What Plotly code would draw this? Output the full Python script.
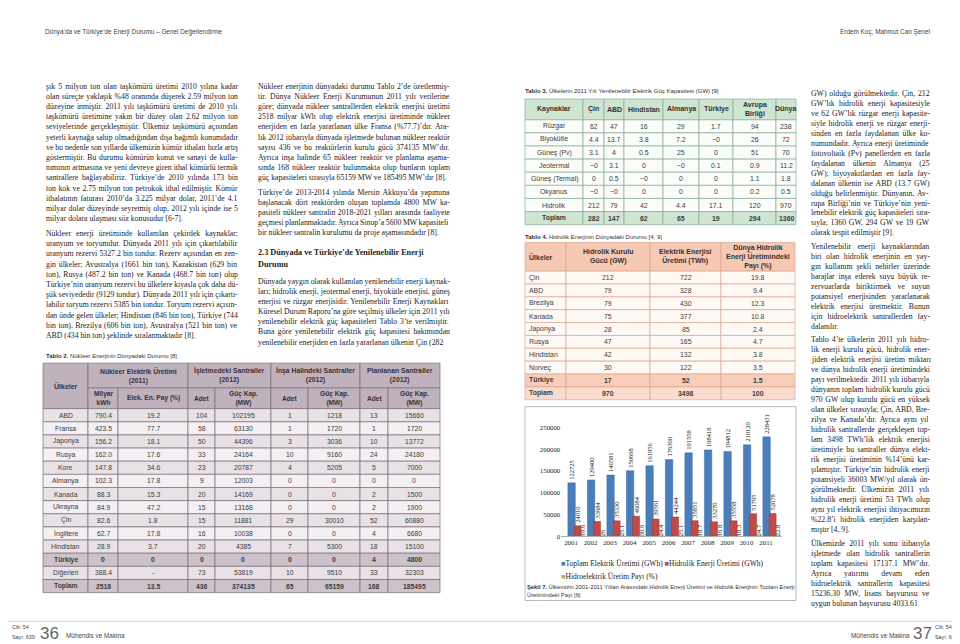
import plotly.graph_objects as go

W, H = 960, 644

# ---------------- Şekil 7 chart data ----------------
YEARS = ["2001", "2002", "2003", "2004", "2005", "2006", "2007", "2008", "2009", "2010", "2011"]
TOTAL_GWH = [122725, 129400, 140581, 150698, 161956, 176300, 191558, 198418, 194812, 210120, 228431]
HYDRO_GWH = [24010, 33684, 35330, 46084, 39561, 44244, 35851, 33270, 35558, 51795, 52078]
HYDRO_SHARE = [19.6, 26, 25.1, 30.6, 24.4, 25.1, 18.7, 16.8, 18.3, 24.7, 22.8]
Y_TICKS = [0, 50000, 100000, 150000, 200000, 250000]
SERIES_NAMES = ["Toplam Elektrik Üretimi (GWh)", "Hidrolik Enerji Üretimi (GWh)", "Hidroelektrik Üretim Payı (%)"]

# ---------------- Tablo 2 data ----------------
T2_COUNTRIES = ["ABD", "Fransa", "Japonya", "Rusya", "Kore", "Almanya", "Kanada", "Ukrayna", "Çin",
                "İngiltere", "Hindistan", "Türkiye", "Diğerleri", "Toplam"]
T2_NUC_KWH = ["790.4", "423.5", "156.2", "162.0", "147.8", "102.3", "88.3", "84.9", "82.6", "62.7", "28.9", "0", "388.4", "2518"]
T2_NUC_SHARE = ["19.2", "77.7", "18.1", "17.6", "34.6", "17.8", "15.3", "47.2", "1.8", "17.8", "3.7", "0", "-", "13.5"]
T2_OP_N = ["104", "58", "50", "33", "23", "9", "20", "15", "15", "16", "20", "0", "73", "436"]
T2_OP_MW = ["102195", "63130", "44396", "24164", "20787", "12003", "14169", "13168", "11881", "10038", "4385", "0", "53819", "374135"]
T2_CON_N = ["1", "1", "3", "10", "4", "0", "0", "0", "29", "0", "7", "0", "10", "65"]
T2_CON_MW = ["1218", "1720", "3036", "9160", "5205", "0", "0", "0", "30010", "0", "5300", "0", "9510", "65159"]
T2_PLAN_N = ["13", "1", "10", "24", "5", "0", "2", "2", "52", "4", "18", "4", "33", "168"]
T2_PLAN_MW = ["15660", "1720", "13772", "24180", "7000", "0", "1500", "1900", "60880", "6680", "15100", "4800", "32303", "185495"]
T2_GROUPS = ["Nükleer Elektrik Üretimi<br>(2011)", "İşletmedeki Santraller<br>(2012)",
             "İnşa Halindeki Santraller<br>(2012)", "Planlanan Santraller<br>(2012)"]
T2_SUBHEAD = ["Milyar<br>kWh", "Elek. En. Pay (%)", "Adet", "Güç Kap.<br>(MW)", "Adet", "Güç Kap.<br>(MW)", "Adet", "Güç Kap.<br>(MW)"]

# ---------------- Tablo 3 data ----------------
T3_HEAD = ["Kaynaklar", "Çin", "ABD", "Hindistan", "Almanya", "Türkiye", "Avrupa<br>Birliği", "Dünya"]
T3_SOURCES = ["Rüzgar", "Biyokütle", "Güneş (Pv)", "Jeotermal", "Güneş (Termal)", "Okyanus", "Hidrolik", "Toplam"]
T3_CIN = ["62", "4.4", "3.1", "~0", "0", "~0", "212", "282"]
T3_ABD = ["47", "13.7", "4", "3.1", "0.5", "~0", "79", "147"]
T3_HIN = ["16", "3.8", "0.5", "0", "~0", "0", "42", "62"]
T3_ALM = ["29", "7.2", "25", "~0", "0", "0", "4.4", "65"]
T3_TUR = ["1.7", "~0", "0", "0.1", "0", "0", "17.1", "19"]
T3_AB = ["94", "26", "51", "0.9", "1.1", "0.2", "120", "294"]
T3_DUNYA = ["238", "72", "70", "11.2", "1.8", "0.5", "970", "1360"]

# ---------------- Tablo 4 data ----------------
T4_HEAD = ["Ülkeler", "Hidrolik Kurulu<br>Gücü (GW)", "Elektrik Enerjisi<br>Üretimi (TWh)", "Dünya Hidrolik<br>Enerji Üretimindeki<br>Payı (%)"]
T4_COUNTRIES = ["Çin", "ABD", "Brezilya", "Kanada", "Japonya", "Rusya", "Hindistan", "Norveç", "Türkiye", "Toplam"]
T4_GW = ["212", "79", "79", "75", "28", "47", "42", "30", "17", "970"]
T4_TWH = ["722", "328", "430", "377", "85", "165", "132", "122", "52", "3498"]
T4_SHARE = ["19.8", "9.4", "12.3", "10.8", "2.4", "4.7", "3.8", "3.5", "1.5", "100"]

# ---------------- body text ----------------
LEFT_P1 = [
    "şık 5 milyon ton olan taşkömürü üretimi 2010 yılına kadar",
    "olan süreçte yaklaşık %48 oranında düşerek 2.59 milyon ton",
    "düzeyine inmiştir. 2011 yılı taşkömürü üretimi de 2010 yılı",
    "taşkömürü üretimine yakın bir düzey olan 2.62 milyon ton",
    "seviyelerinde gerçekleşmiştir. Ülkemiz taşkömürü açısından",
    "yeterli kaynağa sahip olmadığından dışa bağımlı konumdadır",
    "ve bu nedenle son yıllarda ülkemizin kömür ithalatı hızla artış",
    "göstermiştir. Bu durumu kömürün konut ve sanayi de kulla-",
    "nımının artmasına ve yeni devreye giren ithal kömürlü termik",
    "santrallere bağlayabiliriz. Türkiye’de 2010 yılında 173 bin",
    "ton kok ve 2.75 milyon ton petrokok ithal edilmiştir. Kömür",
    "ithalatının faturası 2010’da 3.225 milyar dolar, 2011’de 4.1",
    "milyar dolar düzeyinde seyretmiş olup, 2012 yılı içinde ise 5",
    "milyar dolara ulaşması söz konusudur [6-7].",
]
LEFT_P2 = [
    "Nükleer enerji üretiminde kullanılan çekirdek kaynaklar;",
    "uranyum ve toryumdur. Dünyada 2011 yılı için çıkartılabilir",
    "uranyum rezervi 5327.2 bin tondur. Rezerv açısından en zen-",
    "gin ülkeler; Avustralya (1661 bin ton), Kazakistan (629 bin",
    "ton), Rusya (487.2 bin ton) ve Kanada (468.7 bin ton) olup",
    "Türkiye’nin uranyum rezervi bu ülkelere kıyasla çok daha dü-",
    "şük seviyededir (9129 tondur). Dünyada 2011 yılı için çıkartı-",
    "labilir toryum rezervi 5385 bin tondur. Toryum rezervi açısın-",
    "dan önde gelen ülkeler; Hindistan (846 bin ton), Türkiye (744",
    "bin ton), Brezilya (606 bin ton), Avustralya (521 bin ton) ve",
    "ABD (434 bin ton) şeklinde sıralanmaktadır [8].",
]
MID_P1 = [
    "Nükleer enerjinin dünyadaki durumu Tablo 2’de özetlenmiş-",
    "tir. Dünya Nükleer Enerji Kurumunun 2011 yılı verilerine",
    "göre; dünyada nükleer santrallerden elektrik enerjisi üretimi",
    "2518 milyar kWh olup elektrik enerjisi üretiminde nükleer",
    "enerjiden en fazla yararlanan ülke Fransa (%77.7)’dır. Ara-",
    "lık 2012 itibarıyla dünyada işletmede bulunan nükleer reaktör",
    "sayısı 436 ve bu reaktörlerin kurulu gücü 374135 MW’dır.",
    "Ayrıca inşa halinde 65 nükleer reaktör ve planlama aşama-",
    "sında 168 nükleer reaktör bulunmakta olup bunların toplam",
    "güç kapasiteleri sırasıyla 65159 MW ve 185495 MW’dır [8].",
]
MID_P2 = [
    "Türkiye’de 2013-2014 yılında Mersin Akkuyu’da yapımına",
    "başlanacak dört reaktörden oluşan toplamda 4800 MW ka-",
    "pasiteli nükleer santralin 2018-2021 yılları arasında faaliyete",
    "geçmesi planlanmaktadır. Ayrıca Sinop’a 5600 MW kapasiteli",
    "bir nükleer santralin kurulumu da proje aşamasındadır [8].",
]
MID_HEAD = ["2.3 Dünyada ve Türkiye’de Yenilenebilir Enerji", "Durumu"]
MID_P3 = [
    "Dünyada yaygın olarak kullanılan yenilenebilir enerji kaynak-",
    "ları; hidrolik enerji, jeotermal enerji, biyokütle enerjisi, güneş",
    "enerjisi ve rüzgar enerjisidir. Yenilenebilir Enerji Kaynakları",
    "Küresel Durum Raporu’na göre seçilmiş ülkeler için 2011 yılı",
    "yenilenebilir elektrik güç kapasiteleri Tablo 3’te verilmiştir.",
    "Buna göre yenilenebilir elektrik güç kapasitesi bakımından",
    "yenilenebilir enerjiden en fazla yararlanan ülkenin Çin (282",
]
RIGHT_P1 = [
    "GW) olduğu görülmektedir. Çin, 212",
    "GW’lık hidrolik enerji kapasitesiyle",
    "ve 62 GW’lık rüzgar enerji kapasite-",
    "siyle hidrolik enerji ve rüzgar enerji-",
    "sinden en fazla faydalanan ülke ko-",
    "numundadır. Ayrıca enerji üretiminde",
    "fotovoltaik (Pv) panellerden en fazla",
    "faydalanan ülkenin Almanya (25",
    "GW); biyoyakıtlardan en fazla fay-",
    "dalanan ülkenin ise ABD (13.7 GW)",
    "olduğu belirlenmiştir. Dünyanın, Av-",
    "rupa Birliği’nin ve Türkiye’nin yeni-",
    "lenebilir elektrik güç kapasiteleri sıra-",
    "sıyla; 1360 GW, 294 GW ve 19 GW",
    "olarak tespit edilmiştir [9].",
]
RIGHT_P2 = [
    "Yenilenebilir enerji kaynaklarından",
    "biri olan hidrolik enerjinin en yay-",
    "gın kullanım şekli nehirler üzerinde",
    "barajlar inşa ederek suyu büyük re-",
    "zervuarlarda biriktirmek ve suyun",
    "potansiyel enerjisinden yararlanarak",
    "elektrik enerjisi üretmektir. Bunun",
    "için hidroelektrik santrallerden fay-",
    "dalanılır.",
]
RIGHT_P3 = [
    "Tablo 4’te ülkelerin 2011 yılı hidro-",
    "lik enerji kurulu gücü, hidrolik ener-",
    "jiden elektrik enerjisi üretim miktarı",
    "ve dünya hidrolik enerji üretimindeki",
    "payı verilmektedir. 2011 yılı itibarıyla",
    "dünyanın toplam hidrolik kurulu gücü",
    "970 GW olup kurulu gücü en yüksek",
    "olan ülkeler sırasıyla; Çin, ABD, Bre-",
    "zilya ve Kanada’dır. Ayrıca aynı yıl",
    "hidrolik santrallerde gerçekleşen top-",
    "lam 3498 TWh’lik elektrik enerjisi",
    "üretimiyle bu santraller dünya elekt-",
    "rik enerjisi üretiminin %14’ünü kar-",
    "şılamıştır. Türkiye’nin hidrolik enerji",
    "potansiyeli 36003 MW/yıl olarak ön-",
    "görülmektedir. Ülkemizin 2011 yılı",
    "hidrolik enerji üretimi 53 TWh olup",
    "aynı yıl elektrik enerjisi ihtiyacımızın",
    "%22.8’i hidrolik enerjiden karşılan-",
    "mıştır [4, 9].",
]
RIGHT_P4 = [
    "Ülkemizde 2011 yılı sonu itibarıyla",
    "işletmede olan hidrolik santrallerin",
    "toplam kapasitesi 17137.1 MW’dır.",
    "Ayrıca yatırımı devam eden",
    "hidroelektrik santrallerin kapasitesi",
    "15236.30 MW, lisans başvurusu ve",
    "uygun bulunan başvurusu 4033.61",
]

SERIF = "Liberation Serif, Times New Roman, serif"
SANS = "Liberation Sans, Arial, sans-serif"
NARROW = "Liberation Sans Narrow, Liberation Sans, Arial, sans-serif"

# approximate Times/Liberation Serif advance widths (1/1000 em) for justification
_TW = {" ": 250, "a": 444, "b": 500, "c": 444, "d": 500, "e": 444, "f": 333, "g": 500, "h": 500, "i": 278,
       "j": 278, "k": 500, "l": 278, "m": 778, "n": 500, "o": 500, "p": 500, "q": 500, "r": 333, "s": 389,
       "t": 278, "u": 500, "v": 500, "w": 722, "x": 500, "y": 500, "z": 444,
       "A": 722, "B": 667, "C": 667, "D": 722, "E": 611, "F": 556, "G": 722, "H": 722, "I": 333, "J": 389,
       "K": 722, "L": 611, "M": 889, "N": 722, "O": 722, "P": 556, "Q": 722, "R": 667, "S": 556, "T": 611,
       "U": 722, "V": 722, "W": 944, "X": 722, "Y": 722, "Z": 611,
       ".": 250, ",": 250, ";": 278, ":": 278, "-": 333, "(": 333, ")": 333, "%": 833, "[": 333, "]": 333,
       "’": 333, "/": 278, "~": 541, "–": 500,
       "ş": 389, "ı": 278, "ğ": 500, "ü": 500, "ö": 500, "ç": 444, "İ": 333, "Ş": 556, "Ç": 667, "Ü": 722,
       "Ö": 722}


def text_width(s, size):
    return sum(_TW.get(ch, 500) for ch in s) / 1000.0 * size


annotations = []
shapes = []


def X(px):
    return px / W


def Y(py):
    return 1 - py / H


def txt(px, py, s, size=7.3, fam=SERIF, color="#1e1e1e", anchor="left", vanchor="middle"):
    annotations.append(dict(x=X(px), y=Y(py), xref="paper", yref="paper", text=s, showarrow=False,
                            xanchor=anchor, yanchor=vanchor, align=anchor, borderpad=0, borderwidth=0,
                            font=dict(family=fam, size=size, color=color)))


def rect(x0, y0, x1, y1, fill, line, lw=0.7, layer="above"):
    shapes.append(dict(type="rect", xref="paper", yref="paper", x0=X(x0), x1=X(x1), y0=Y(y1), y1=Y(y0),
                       fillcolor=fill, line=dict(color=line, width=lw), layer=layer))


BODY = 7.75


def para(px0, px1, py0, lines, ls, size=BODY):
    """Justified paragraph: every line but the last is spread to the column width."""
    for i, s in enumerate(lines):
        n_sp = s.count(" ")
        if i < len(lines) - 1 and n_sp > 0:
            ws = (px1 - px0 - text_width(s, size)) / n_sp
            s = f'<span style="word-spacing:{ws:.2f}px">{s}</span>'
        txt(px0, py0 + i * ls, s, size=size, color="#1c1c1c")


# ---------------- body text placement ----------------
LS = 10.3
LCOL = (38, 230)
MCOL = (250, 442)
RCOL = (803, 922)
para(*LCOL, 75, LEFT_P1, LS)
para(*LCOL, 224, LEFT_P2, LS)
para(*MCOL, 75, MID_P1, LS)
para(*MCOL, 182, MID_P2, LS)
txt(MCOL[0], 243, "<b>" + MID_HEAD[0] + "</b>", size=8.2)
txt(MCOL[0], 255, "<b>" + MID_HEAD[1] + "</b>", size=8.2)
para(*MCOL, 272, MID_P3, LS)
LSR = 10.1
para(*RCOL, 82, RIGHT_P1, LSR)
para(*RCOL, 237, RIGHT_P2, LSR)
para(*RCOL, 331, RIGHT_P3, LSR)
para(*RCOL, 537, RIGHT_P4, LSR)

# header / footer
txt(37, 20, "Dünya’da ve Türkiye’de Enerji Durumu – Genel Değerlendirme", size=6.4, fam=NARROW, color="#444")
txt(922, 20, "Erdem Koç, Mahmut Can Şenel", size=6.4, fam=NARROW, color="#444", anchor="right")
shapes.append(dict(type="line", xref="paper", yref="paper", x0=0, x1=1, y0=Y(616), y1=Y(616),
                   line=dict(color="#c8c8c8", width=0.8)))
txt(4, 622, "Cilt: 54", size=5.4, fam=NARROW, color="#444")
txt(4, 632, "Sayı: 639", size=5.4, fam=NARROW, color="#444")
txt(32, 628, "36", size=17, fam=SANS, color="#666")
txt(58, 630, "Mühendis ve Makina", size=6.4, fam=NARROW, color="#444")
txt(902, 630, "Mühendis ve Makina", size=6.4, fam=NARROW, color="#444", anchor="right")
txt(905, 628, "37", size=17, fam=SANS, color="#666")
txt(927, 622, "Cilt: 54", size=5.4, fam=NARROW, color="#444")
txt(927, 632, "Sayı: 639", size=5.4, fam=NARROW, color="#444")

# ---------------- Tablo 2 ----------------
txt(38, 348, "<b>Tablo 2.</b> Nükleer Enerjinin Dünyadaki Durumu [8]", size=6.0, fam=NARROW, color="#333")
t2x = [35, 80, 110, 180, 207, 263, 300, 352, 380, 432]
t2_top, t2_h1, t2_h2 = 355, 380, 401
t2_rh = (587 - t2_h2) / len(T2_COUNTRIES)
T2_LINE = "#7a6f78"
T2_HEAD = "#c0b2bd"
rect(t2x[0], t2_top, t2x[1], t2_h2, T2_HEAD, T2_LINE)
txt((t2x[0] + t2x[1]) / 2, (t2_top + t2_h2) / 2, "<b>Ülkeler</b>", size=7, fam=SANS, color="#3a3038", anchor="center")
for g in range(4):
    a, b = t2x[1 + 2 * g], t2x[3 + 2 * g]
    rect(a, t2_top, b, t2_h1, T2_HEAD, T2_LINE)
    txt((a + b) / 2, (t2_top + t2_h1) / 2, "<b>" + T2_GROUPS[g] + "</b>", size=6.8, fam=SANS, color="#3a3038", anchor="center")
for c in range(8):
    a, b = t2x[1 + c], t2x[2 + c]
    rect(a, t2_h1, b, t2_h2, T2_HEAD, T2_LINE)
    txt((a + b) / 2, (t2_h1 + t2_h2) / 2, "<b>" + T2_SUBHEAD[c] + "</b>", size=6.6, fam=SANS, color="#3a3038", anchor="center")
t2_cols = [T2_COUNTRIES, T2_NUC_KWH, T2_NUC_SHARE, T2_OP_N, T2_OP_MW, T2_CON_N, T2_CON_MW, T2_PLAN_N, T2_PLAN_MW]
for r, name in enumerate(T2_COUNTRIES):
    y0 = t2_h2 + r * t2_rh
    strong = name in ("Türkiye", "Toplam")
    fill = "#cdc1ca" if strong else ("#e8e2e6" if r % 2 == 0 else "#f3eff2")
    for c, col in enumerate(t2_cols):
        rect(t2x[c], y0, t2x[c + 1], y0 + t2_rh, fill, T2_LINE)
        s = col[r]
        txt((t2x[c] + t2x[c + 1]) / 2, y0 + t2_rh / 2, "<b>" + s + "</b>" if strong else s,
            size=6.8, fam=SANS, color="#3c3c3c", anchor="center")

# ---------------- Tablo 3 ----------------
txt(517, 80, "<b>Tablo 3.</b> Ülkelerin 2011 Yılı Yenilenebilir Elektrik Güç Kapasitesi (GW) [9]", size=6.0, fam=NARROW, color="#333")
t3x = [517, 575, 596, 616, 655, 691, 725, 768, 788]
t3_top, t3_h = 88, 109
t3_rh = (215 - t3_h) / len(T3_SOURCES)
T3_LINE = "#86ad92"
T3_FILL = "#cfe5d2"
for c in range(8):
    rect(t3x[c], t3_top, t3x[c + 1], t3_h, T3_FILL, T3_LINE)
    txt((t3x[c] + t3x[c + 1]) / 2, (t3_top + t3_h) / 2, "<b>" + T3_HEAD[c] + "</b>", size=7, fam=SANS, color="#333", anchor="center")
t3_cols = [T3_SOURCES, T3_CIN, T3_ABD, T3_HIN, T3_ALM, T3_TUR, T3_AB, T3_DUNYA]
for r, name in enumerate(T3_SOURCES):
    y0 = t3_h + r * t3_rh
    strong = name == "Toplam"
    fill = T3_FILL if strong else "#fbfdfb"
    for c, col in enumerate(t3_cols):
        rect(t3x[c], y0, t3x[c + 1], y0 + t3_rh, fill, T3_LINE)
        s = col[r]
        txt((t3x[c] + t3x[c + 1]) / 2, y0 + t3_rh / 2, "<b>" + s + "</b>" if strong else s,
            size=6.9, fam=SANS, color="#3c3c3c", anchor="center")

# ---------------- Tablo 4 ----------------
txt(517, 227, "<b>Tablo 4.</b> Hidrolik Enerjinin Dünyadaki Durumu [4, 9]", size=6.0, fam=NARROW, color="#333")
t4x = [517, 558, 642, 713, 787]
t4_top, t4_h = 233, 262
t4_rh = (392 - t4_h) / len(T4_COUNTRIES)
T4_LINE = "#dda58f"
T4_HFILL = "#f6c9b5"
for c in range(4):
    rect(t4x[c], t4_top, t4x[c + 1], t4_h, T4_HFILL, T4_LINE)
    if c == 0:
        txt(t4x[0] + 4, (t4_top + t4_h) / 2, "<b>" + T4_HEAD[0] + "</b>", size=7, fam=SANS, color="#333")
    else:
        txt((t4x[c] + t4x[c + 1]) / 2, (t4_top + t4_h) / 2, "<b>" + T4_HEAD[c] + "</b>", size=7, fam=SANS, color="#333", anchor="center")
t4_cols = [T4_COUNTRIES, T4_GW, T4_TWH, T4_SHARE]
for r, name in enumerate(T4_COUNTRIES):
    y0 = t4_h + r * t4_rh
    if name == "Türkiye":
        fill, strong = "#f7cdb9", True
    elif name == "Toplam":
        fill, strong = "#fadccf", True
    else:
        fill, strong = "#fff9f6", False
    for c, col in enumerate(t4_cols):
        rect(t4x[c], y0, t4x[c + 1], y0 + t4_rh, fill, T4_LINE)
        s = "<b>" + col[r] + "</b>" if strong else col[r]
        if c == 0:
            txt(t4x[0] + 4, y0 + t4_rh / 2, s, size=6.9, fam=SANS, color="#3c3c3c")
        else:
            txt((t4x[c] + t4x[c + 1]) / 2, y0 + t4_rh / 2, s, size=6.9, fam=SANS, color="#3c3c3c", anchor="center")

# ---------------- Şekil 7 chart ----------------
rect(517, 399, 788, 595, "rgba(0,0,0,0)", "#a8a8a8", lw=0.8, layer="below")
BLUE, RED, GREEN = "#4a7ebb", "#be4b48", "#98b954"
lab_font = dict(family=SERIF, size=6.5, color="#111")
fig = go.Figure()
fig.add_bar(x=YEARS, y=TOTAL_GWH, name=SERIES_NAMES[0], text=[str(v) for v in TOTAL_GWH],
            marker=dict(color=BLUE, line=dict(color="#3a6aa3", width=0.5)),
            offset=-0.16, width=0.38)
fig.add_bar(x=YEARS, y=HYDRO_GWH, name=SERIES_NAMES[1], text=[str(v) for v in HYDRO_GWH],
            marker=dict(color=RED, line=dict(color="#9e3a38", width=0.5)),
            offset=0.16, width=0.36)
fig.add_bar(x=YEARS, y=HYDRO_SHARE, name=SERIES_NAMES[2], text=[str(v) for v in HYDRO_SHARE],
            marker=dict(color=GREEN, line=dict(color=GREEN, width=1.5)),
            offset=0.5, width=0.18)
fig.update_traces(textposition="outside", textangle=-90, constraintext="none", cliponaxis=False,
                  textfont=lab_font, showlegend=False)

cat_w = 19.5
x0_px = 563 - 0.5 * cat_w
x1_px = 758 + 0.8 * cat_w

txt(553, 558, f'<span style="color:{BLUE}">■</span>{SERIES_NAMES[0]} <span style="color:{RED}">■</span>{SERIES_NAMES[1]}',
    size=7.5, fam=SERIF, color="#222")
txt(553, 571, f'<span style="color:{GREEN}">■</span>{SERIES_NAMES[2]}', size=7.5, fam=SERIF, color="#222")
txt(519, 581, "<b>Şekil 7.</b> Ülkemizin 2001-2011 Yılları Arasındaki Hidrolik Enerji Üretimi ve Hidrolik Enerjinin Toplam Enerji",
    size=5.8, fam=NARROW, color="#333")
txt(519, 589, "Üretimindeki Payı [6]", size=5.8, fam=NARROW, color="#333")

fig.update_layout(
    width=W, height=H, margin=dict(l=0, r=0, t=0, b=0),
    paper_bgcolor="white", plot_bgcolor="rgba(0,0,0,0)",
    barmode="group", showlegend=False,
    xaxis=dict(domain=[X(x0_px), X(x1_px)], range=[-0.5, 10.8], type="category",
               showgrid=False, zeroline=False, showline=True, linecolor="#b0b0b0", linewidth=0.8,
               ticks="", tickfont=dict(family=SERIF, size=6.8, color="#222")),
    yaxis=dict(domain=[Y(530), Y(420)], range=[0, 250000], tickvals=Y_TICKS, tickformat="d",
               showgrid=False, zeroline=False, showline=False, ticks="",
               tickfont=dict(family=SERIF, size=6.8, color="#222")),
    annotations=annotations, shapes=shapes,
)

fig.write_html("out.html")
